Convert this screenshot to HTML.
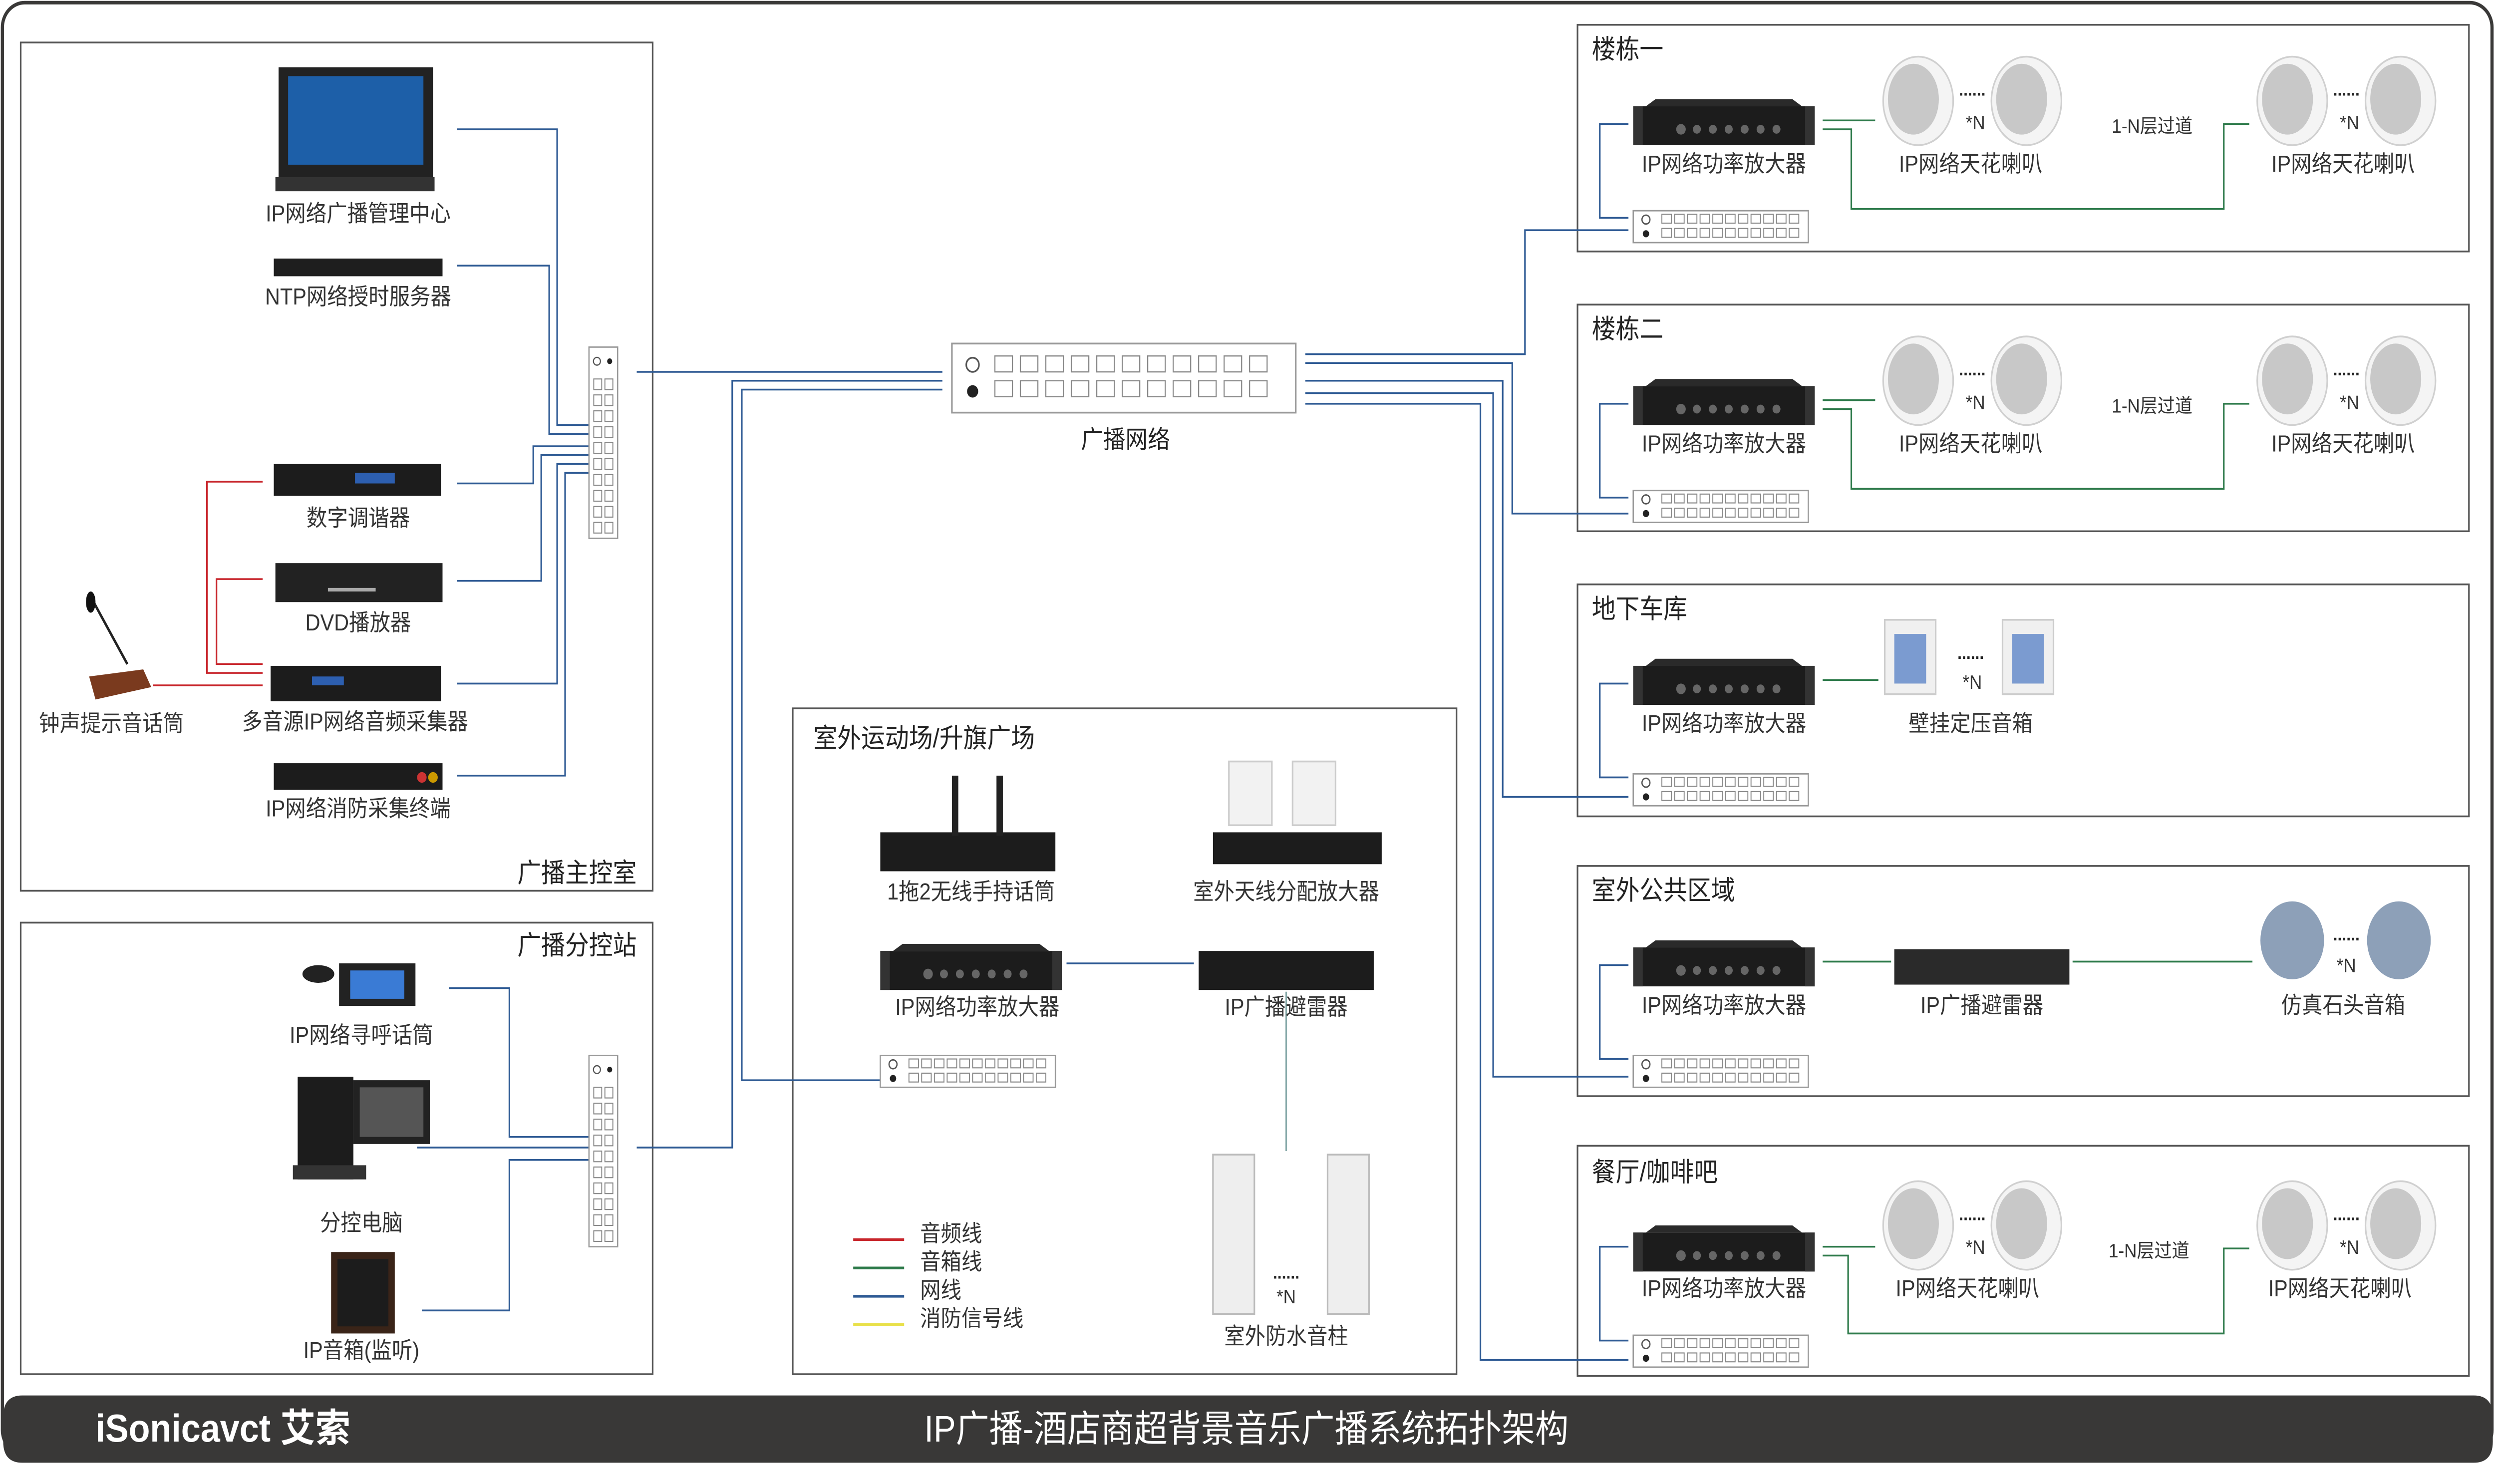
<!DOCTYPE html>
<html><head><meta charset="utf-8">
<style>
html,body{margin:0;padding:0;background:#fff;width:100%;height:100%;overflow:hidden;}
svg{display:block;position:fixed;left:0;top:0;width:100vw;height:100vh;}
text{font-family:"Liberation Sans","Noto Sans CJK SC",sans-serif;}
</style></head>
<body>
<svg viewBox="0 0 1568 838" preserveAspectRatio="none" xmlns="http://www.w3.org/2000/svg">
<defs>
  <g id="amp">
    <rect x="0" y="4" width="114" height="22" fill="#1c1c1c"/>
    <polygon points="8,4 14,0 100,0 106,4" fill="#2a2a2a"/>
    <rect x="0" y="4" width="6" height="22" fill="#333"/>
    <rect x="108" y="4" width="6" height="22" fill="#333"/>
    <g fill="#666"><circle cx="30" cy="17" r="3"/><circle cx="40" cy="17" r="2.5"/><circle cx="50" cy="17" r="2.5"/><circle cx="60" cy="17" r="2.5"/><circle cx="70" cy="17" r="2.5"/><circle cx="80" cy="17" r="2.5"/><circle cx="90" cy="17" r="2.5"/></g>
  </g>
  <g id="panel">
    <rect x="0" y="0" width="110" height="18" fill="#fff" stroke="#999" stroke-width="0.8"/>
    <circle cx="8" cy="5" r="2.5" fill="none" stroke="#555" stroke-width="0.8"/>
    <circle cx="8" cy="13" r="2" fill="#222"/>
    <g fill="none" stroke="#888" stroke-width="0.6">
      <rect x="18" y="2" width="6" height="5"/><rect x="26" y="2" width="6" height="5"/><rect x="34" y="2" width="6" height="5"/><rect x="42" y="2" width="6" height="5"/><rect x="50" y="2" width="6" height="5"/><rect x="58" y="2" width="6" height="5"/><rect x="66" y="2" width="6" height="5"/><rect x="74" y="2" width="6" height="5"/><rect x="82" y="2" width="6" height="5"/><rect x="90" y="2" width="6" height="5"/><rect x="98" y="2" width="6" height="5"/>
      <rect x="18" y="10" width="6" height="5"/><rect x="26" y="10" width="6" height="5"/><rect x="34" y="10" width="6" height="5"/><rect x="42" y="10" width="6" height="5"/><rect x="50" y="10" width="6" height="5"/><rect x="58" y="10" width="6" height="5"/><rect x="66" y="10" width="6" height="5"/><rect x="74" y="10" width="6" height="5"/><rect x="82" y="10" width="6" height="5"/><rect x="90" y="10" width="6" height="5"/><rect x="98" y="10" width="6" height="5"/>
    </g>
  </g>
  <g id="vpanel">
    <rect x="0" y="0" width="18" height="108" fill="#fff" stroke="#999" stroke-width="0.8"/>
    <circle cx="5" cy="8" r="2.2" fill="none" stroke="#555" stroke-width="0.7"/>
    <circle cx="13" cy="8" r="1.6" fill="#222"/>
    <g fill="none" stroke="#888" stroke-width="0.6">
      <rect x="3" y="18" width="5" height="6"/><rect x="10" y="18" width="5" height="6"/>
      <rect x="3" y="27" width="5" height="6"/><rect x="10" y="27" width="5" height="6"/>
      <rect x="3" y="36" width="5" height="6"/><rect x="10" y="36" width="5" height="6"/>
      <rect x="3" y="45" width="5" height="6"/><rect x="10" y="45" width="5" height="6"/>
      <rect x="3" y="54" width="5" height="6"/><rect x="10" y="54" width="5" height="6"/>
      <rect x="3" y="63" width="5" height="6"/><rect x="10" y="63" width="5" height="6"/>
      <rect x="3" y="72" width="5" height="6"/><rect x="10" y="72" width="5" height="6"/>
      <rect x="3" y="81" width="5" height="6"/><rect x="10" y="81" width="5" height="6"/>
      <rect x="3" y="90" width="5" height="6"/><rect x="10" y="90" width="5" height="6"/>
      <rect x="3" y="99" width="5" height="6"/><rect x="10" y="99" width="5" height="6"/>
    </g>
  </g>
  <g id="spk">
    <ellipse cx="0" cy="0" rx="22" ry="25" fill="#f4f4f4" stroke="#d0d0d0"/>
    <ellipse cx="-3" cy="-1" rx="16" ry="20" fill="#c8c8c8"/>
  </g>
  <g id="spkpair">
    <use href="#spk" x="0" y="0"/>
    <use href="#spk" x="68" y="0"/>
    <text x="34" y="-3" font-size="10" text-anchor="middle" fill="#222" font-weight="bold">......</text>
    <text x="36" y="16" font-size="11" text-anchor="middle" fill="#333">*N</text>
  </g>
</defs>

<rect x="1.5" y="1.5" width="1564" height="820" rx="14" fill="#fff" stroke="#3a3938" stroke-width="2"/>
<path d="M2,800 Q2,788 14,788 L1554,788 Q1566,788 1566,800 L1566,814 Q1566,826 1554,826 L14,826 Q2,826 2,814 Z" fill="#393837"/>
<text x="60" y="814" font-size="22" fill="#fff" font-weight="bold">iSonicavct 艾索</text>
<text x="783" y="814" font-size="21" fill="#fff" text-anchor="middle">IP广播-酒店商超背景音乐广播系统拓扑架构</text>

<g fill="none" stroke="#555" stroke-width="1">
  <rect x="13" y="24" width="397" height="479"/>
  <rect x="13" y="521" width="397" height="255"/>
  <rect x="498" y="400" width="417" height="376"/>
  <rect x="991" y="14" width="560" height="128"/>
  <rect x="991" y="172" width="560" height="128"/>
  <rect x="991" y="330" width="560" height="131"/>
  <rect x="991" y="489" width="560" height="130"/>
  <rect x="991" y="647" width="560" height="130"/>
</g>
<g font-size="15" fill="#222">
  <text x="325" y="498">广播主控室</text>
  <text x="325" y="539">广播分控站</text>
  <text x="511" y="422">室外运动场/升旗广场</text>
  <text x="1000" y="33">楼栋一</text>
  <text x="1000" y="191">楼栋二</text>
  <text x="1000" y="349">地下车库</text>
  <text x="1000" y="508">室外公共区域</text>
  <text x="1000" y="667">餐厅/咖啡吧</text>
</g>

<g fill="none" stroke="#2e5a94" stroke-width="1">
  <path d="M287,73 H350 V240 H370"/>
  <path d="M287,150 H345 V245 H370"/>
  <path d="M287,273 H335 V252 H370"/>
  <path d="M287,328 H340 V257 H370"/>
  <path d="M287,386 H350 V262 H370"/>
  <path d="M287,438 H355 V267 H370"/>
  <path d="M400,210 H592"/>
  <path d="M282,558 H320 V642 H370"/>
  <path d="M262,648 H370"/>
  <path d="M265,740 H320 V655 H370"/>
  <path d="M400,648 H460 V215 H592"/>
  <path d="M592,220 H466 V610 H553"/>
  <path d="M820,200 H958 V130 H1023"/>
  <path d="M820,205 H950 V290 H1023"/>
  <path d="M820,215 H944 V450 H1023"/>
  <path d="M820,222 H938 V608 H1023"/>
  <path d="M820,228 H930 V768 H1023"/>
  <path d="M1023,70 H1005 V123 H1023"/>
  <path d="M1023,228 H1005 V281 H1023"/>
  <path d="M1023,386 H1005 V439 H1023"/>
  <path d="M1023,545 H1005 V598 H1023"/>
  <path d="M1023,704 H1005 V757 H1023"/>
  <path d="M670,544 H750"/>
</g>
<g fill="none" stroke="#c8262c" stroke-width="1">
  <path d="M96,387 H165"/>
  <path d="M165,272 H130 V380 H165"/>
  <path d="M165,327 H136 V375 H165"/>
</g>
<g fill="none" stroke="#2d7a4a" stroke-width="1">
  <path d="M1145,68 H1178"/><path d="M1145,73 H1163 V118 H1397 V70 H1413"/>
  <path d="M1145,226 H1178"/><path d="M1145,231 H1163 V276 H1397 V228 H1413"/>
  <path d="M1145,384 H1180"/>
  <path d="M1145,543 H1188"/><path d="M1302,543 H1415"/>
  <path d="M1145,704 H1178"/><path d="M1145,709 H1161 V753 H1397 V705 H1413"/>
  <path d="M808,560 V650" stroke="#8aa"/>
</g>

<rect x="598" y="194" width="216" height="39" fill="#fff" stroke="#999"/>
<circle cx="611" cy="206" r="4" fill="none" stroke="#555"/>
<circle cx="611" cy="221" r="3.5" fill="#222"/>
<g fill="#fff" stroke="#888" stroke-width="0.7">
  <rect x="625" y="201" width="11" height="9"/><rect x="641" y="201" width="11" height="9"/><rect x="657" y="201" width="11" height="9"/><rect x="673" y="201" width="11" height="9"/><rect x="689" y="201" width="11" height="9"/><rect x="705" y="201" width="11" height="9"/><rect x="721" y="201" width="11" height="9"/><rect x="737" y="201" width="11" height="9"/><rect x="753" y="201" width="11" height="9"/><rect x="769" y="201" width="11" height="9"/><rect x="785" y="201" width="11" height="9"/>
  <rect x="625" y="215" width="11" height="9"/><rect x="641" y="215" width="11" height="9"/><rect x="657" y="215" width="11" height="9"/><rect x="673" y="215" width="11" height="9"/><rect x="689" y="215" width="11" height="9"/><rect x="705" y="215" width="11" height="9"/><rect x="721" y="215" width="11" height="9"/><rect x="737" y="215" width="11" height="9"/><rect x="753" y="215" width="11" height="9"/><rect x="769" y="215" width="11" height="9"/><rect x="785" y="215" width="11" height="9"/>
</g>
<text x="707" y="253" font-size="14" text-anchor="middle" fill="#222">广播网络</text>

<rect x="175" y="38" width="97" height="64" fill="#222"/>
<rect x="181" y="43" width="85" height="50" fill="#1d5fa8"/>
<rect x="173" y="100" width="100" height="8" fill="#333"/>
<rect x="172" y="146" width="106" height="10" fill="#1e1e1e"/>
<rect x="172" y="262" width="105" height="18" fill="#1c1c1c"/><rect x="223" y="267" width="25" height="6" fill="#2d5fb0"/>
<rect x="173" y="318" width="105" height="22" fill="#222"/><rect x="206" y="332" width="30" height="2" fill="#aaa"/>
<rect x="170" y="376" width="107" height="20" fill="#1c1c1c"/><rect x="196" y="382" width="20" height="5" fill="#2d5fb0"/>
<rect x="172" y="431" width="106" height="15" fill="#1c1c1c"/><circle cx="265" cy="439" r="3" fill="#c33"/><circle cx="272" cy="439" r="3" fill="#c90"/>
<path d="M57,337 L80,375" stroke="#222" stroke-width="1.5"/>
<ellipse cx="57" cy="340" rx="3" ry="6" fill="#111"/>
<polygon points="56,382 90,378 95,388 60,395" fill="#7a3a1e"/>
<use href="#vpanel" x="370" y="196"/>
<g font-size="13" fill="#333" text-anchor="middle">
  <text x="225" y="125">IP网络广播管理中心</text>
  <text x="225" y="172">NTP网络授时服务器</text>
  <text x="225" y="297">数字调谐器</text>
  <text x="225" y="356">DVD播放器</text>
  <text x="223" y="412">多音源IP网络音频采集器</text>
  <text x="225" y="461">IP网络消防采集终端</text>
  <text x="70" y="413">钟声提示音话筒</text>
</g>

<rect x="213" y="544" width="48" height="24" fill="#222"/><rect x="220" y="548" width="34" height="16" fill="#3a7bd5"/>
<ellipse cx="200" cy="550" rx="10" ry="5" fill="#222"/>
<rect x="187" y="608" width="35" height="58" fill="#1c1c1c"/>
<rect x="222" y="610" width="48" height="36" fill="#222"/><rect x="226" y="614" width="40" height="28" fill="#555"/>
<rect x="184" y="658" width="46" height="8" fill="#333"/>
<rect x="208" y="707" width="40" height="46" fill="#3a2418"/><rect x="212" y="711" width="32" height="38" fill="#1c1c1c"/>
<use href="#vpanel" x="370" y="596"/>
<g font-size="13" fill="#333" text-anchor="middle">
  <text x="227" y="589">IP网络寻呼话筒</text>
  <text x="227" y="695">分控电脑</text>
  <text x="227" y="767">IP音箱(监听)</text>
</g>

<rect x="553" y="470" width="110" height="22" fill="#1c1c1c"/>
<rect x="598" y="438" width="4" height="34" fill="#222"/><rect x="626" y="438" width="4" height="34" fill="#222"/>
<rect x="772" y="430" width="27" height="36" fill="#f2f2f2" stroke="#ccc"/><rect x="812" y="430" width="27" height="36" fill="#f2f2f2" stroke="#ccc"/>
<rect x="762" y="470" width="106" height="18" fill="#1c1c1c"/>
<use href="#amp" x="553" y="533"/>
<rect x="753" y="537" width="110" height="22" fill="#1c1c1c"/>
<use href="#panel" x="553" y="596"/>
<rect x="762" y="652" width="26" height="90" fill="#eee" stroke="#bbb"/>
<rect x="834" y="652" width="26" height="90" fill="#eee" stroke="#bbb"/>
<text x="808" y="722" font-size="10" text-anchor="middle" fill="#222" font-weight="bold">......</text>
<text x="808" y="736" font-size="11" text-anchor="middle" fill="#333">*N</text>
<g font-size="13" fill="#333" text-anchor="middle">
  <text x="610" y="508">1拖2无线手持话筒</text>
  <text x="808" y="508">室外天线分配放大器</text>
  <text x="614" y="573">IP网络功率放大器</text>
  <text x="808" y="573">IP广播避雷器</text>
  <text x="808" y="759">室外防水音柱</text>
</g>
<g stroke-width="1.5">
  <path d="M536,700 H568" stroke="#c8262c"/>
  <path d="M536,716 H568" stroke="#2d7a4a"/>
  <path d="M536,732 H568" stroke="#2e5a94"/>
  <path d="M536,748 H568" stroke="#e8e04a"/>
</g>
<g font-size="13" fill="#333">
  <text x="578" y="701">音频线</text>
  <text x="578" y="717">音箱线</text>
  <text x="578" y="733">网线</text>
  <text x="578" y="749">消防信号线</text>
</g>

<g font-size="13" fill="#333" text-anchor="middle">
  <use href="#amp" x="1026" y="56"/><use href="#panel" x="1026" y="119"/>
  <use href="#spkpair" x="1205" y="57"/><use href="#spkpair" x="1440" y="57"/>
  <text x="1083" y="97">IP网络功率放大器</text><text x="1238" y="97">IP网络天花喇叭</text><text x="1472" y="97">IP网络天花喇叭</text>
  <text x="1352" y="75" font-size="11">1-N层过道</text>

  <use href="#amp" x="1026" y="214"/><use href="#panel" x="1026" y="277"/>
  <use href="#spkpair" x="1205" y="215"/><use href="#spkpair" x="1440" y="215"/>
  <text x="1083" y="255">IP网络功率放大器</text><text x="1238" y="255">IP网络天花喇叭</text><text x="1472" y="255">IP网络天花喇叭</text>
  <text x="1352" y="233" font-size="11">1-N层过道</text>

  <use href="#amp" x="1026" y="372"/><use href="#panel" x="1026" y="437"/>
  <rect x="1184" y="350" width="32" height="42" fill="#f0f0f0" stroke="#ccc"/><rect x="1190" y="358" width="20" height="28" fill="#7b9bd0"/>
  <rect x="1258" y="350" width="32" height="42" fill="#f0f0f0" stroke="#ccc"/><rect x="1264" y="358" width="20" height="28" fill="#7b9bd0"/>
  <text x="1238" y="372" font-size="10" font-weight="bold" fill="#222">......</text><text x="1239" y="389" font-size="11">*N</text>
  <text x="1083" y="413">IP网络功率放大器</text><text x="1238" y="413">壁挂定压音箱</text>

  <use href="#amp" x="1026" y="531"/><use href="#panel" x="1026" y="596"/>
  <rect x="1190" y="536" width="110" height="20" fill="#2a2a2a"/>
  <ellipse cx="1440" cy="531" rx="20" ry="22" fill="#8da0b8"/><ellipse cx="1507" cy="531" rx="20" ry="22" fill="#8da0b8"/>
  <text x="1474" y="531" font-size="10" font-weight="bold" fill="#222">......</text><text x="1474" y="549" font-size="11">*N</text>
  <text x="1083" y="572">IP网络功率放大器</text><text x="1245" y="572">IP广播避雷器</text><text x="1472" y="572">仿真石头音箱</text>

  <use href="#amp" x="1026" y="692"/><use href="#panel" x="1026" y="754"/>
  <use href="#spkpair" x="1205" y="692"/><use href="#spkpair" x="1440" y="692"/>
  <text x="1083" y="732">IP网络功率放大器</text><text x="1236" y="732">IP网络天花喇叭</text><text x="1470" y="732">IP网络天花喇叭</text>
  <text x="1350" y="710" font-size="11">1-N层过道</text>
</g>
</svg>
</body></html>
